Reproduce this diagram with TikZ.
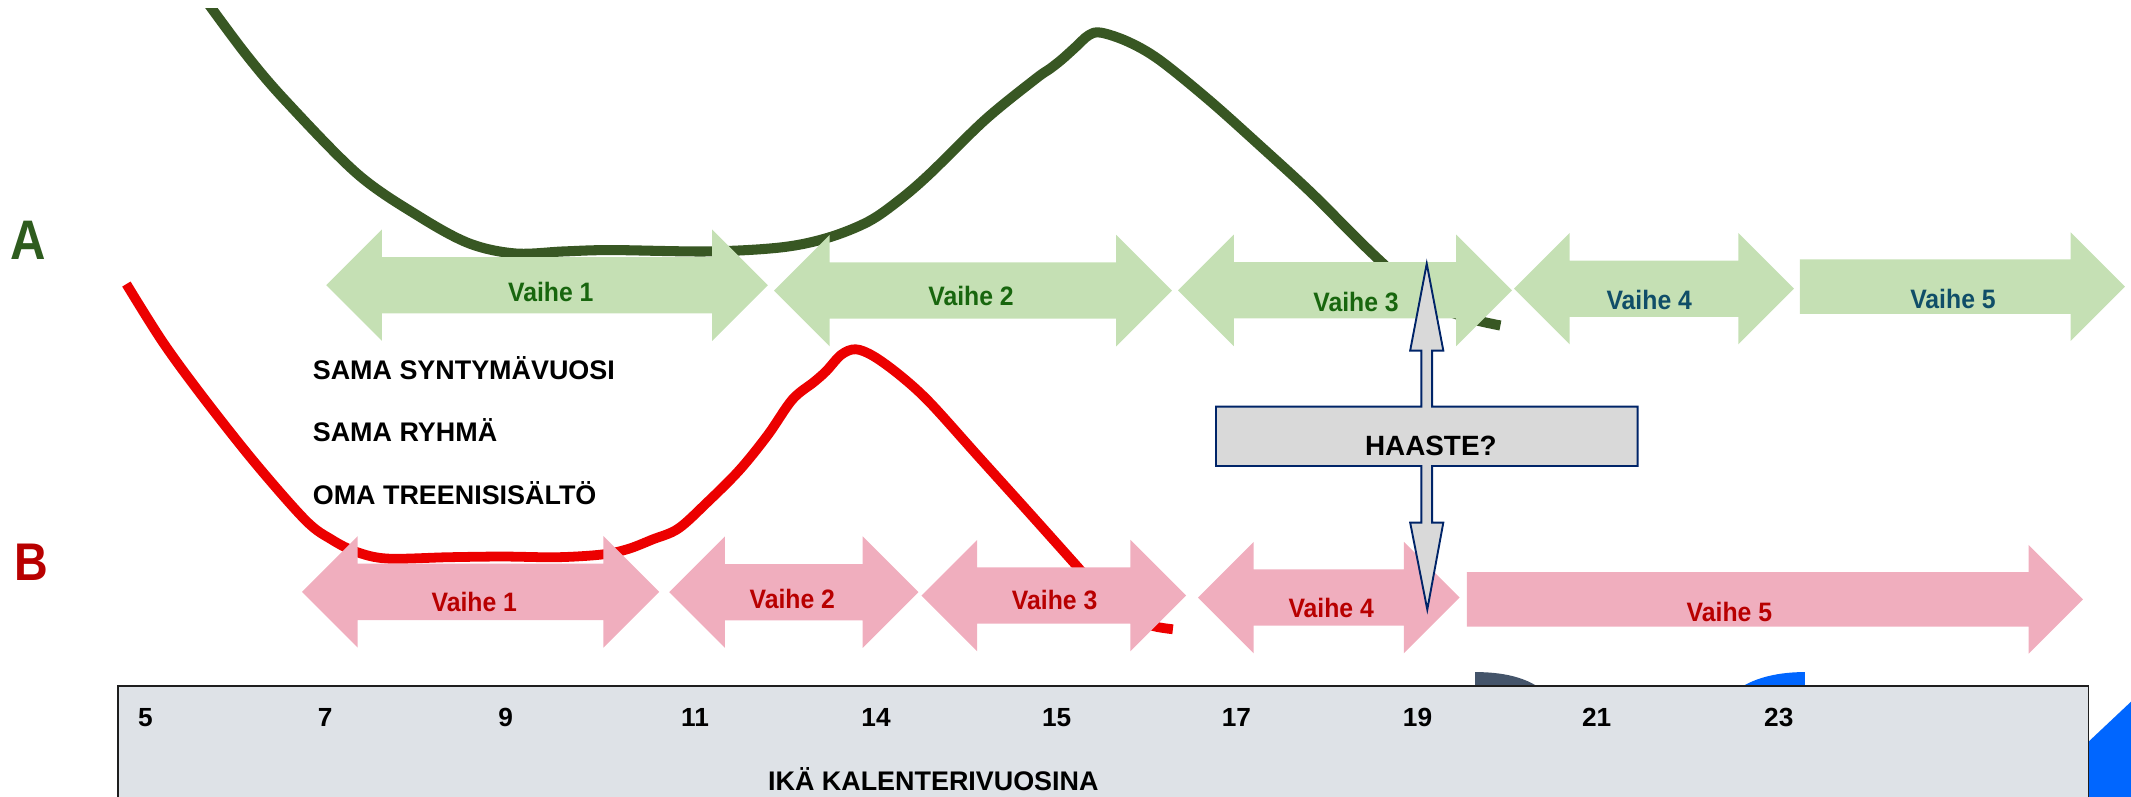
\documentclass[tikz,border=0pt]{standalone}
\usepackage{fontspec}
\setmainfont{Liberation Sans}
\newfontfamily\lblfont{Liberation Sans}[FakeStretch=0.93]
\newfontfamily\bigfont{Liberation Sans}[FakeStretch=0.88]
\definecolor{gcurvecol}{RGB}{56,87,35}
\definecolor{rcurvecol}{RGB}{236,0,0}
\definecolor{garrowcol}{RGB}{197,224,180}
\definecolor{parrowcol}{RGB}{240,174,190}
\definecolor{gtextcol}{RGB}{24,102,14}
\definecolor{ttextcol}{RGB}{16,78,104}
\definecolor{ptextcol}{RGB}{184,0,0}
\definecolor{Acol}{RGB}{46,92,30}
\definecolor{Bcol}{RGB}{184,0,0}
\definecolor{haastefill}{RGB}{217,217,217}
\definecolor{haasteline}{RGB}{0,36,104}
\definecolor{rectfill}{RGB}{222,226,231}
\definecolor{rectline}{RGB}{30,30,30}
\definecolor{slatecol}{RGB}{68,84,106}
\definecolor{bluecol}{RGB}{0,102,255}
\newcommand{\dbarr}[4]{%
  \fill[#1] (#2,#4) -- ({#2+41},{#4-41}) -- ({#2+41},{#4-20.7}) -- ({#3-41},{#4-20.7}) -- ({#3-41},{#4-41}) -- (#3,#4) -- ({#3-41},{#4+41}) -- ({#3-41},{#4+20.7}) -- ({#2+41},{#4+20.7}) -- ({#2+41},{#4+41}) -- cycle;}
\newcommand{\rarr}[4]{%
  \fill[#1] (#2,{#4-20.1}) -- ({#3-40},{#4-20.1}) -- ({#3-40},{#4-40}) -- (#3,#4) -- ({#3-40},{#4+40}) -- ({#3-40},{#4+20.1}) -- (#2,{#4+20.1}) -- cycle;}
\tikzset{
  garrow/.style={fill=garrowcol},
  parrow/.style={fill=parrowcol},
  gcurve/.style={draw=gcurvecol, line width=7.4, line cap=butt, line join=round},
  rcurve/.style={draw=rcurvecol, line width=7.2, line cap=butt, line join=round},
  lbl/.style={font=\lblfont\bfseries\fontsize{19.6}{20}\selectfont, inner sep=0, anchor=base},
  glbl/.style={lbl, text=gtextcol},
  tlbl/.style={lbl, text=ttextcol},
  plbl/.style={lbl, text=ptextcol},
  info/.style={font=\bfseries\fontsize{19.8}{20}\selectfont, inner sep=0, anchor=base west},
  num/.style={font=\bfseries\fontsize{19.3}{20}\selectfont, inner sep=0, anchor=base},
  letter/.style={font=\bigfont\bfseries\fontsize{41}{42}\selectfont, inner sep=0, anchor=base west},
  haaste/.style={fill=haastefill, draw=haasteline, line width=1.4},
}
\begin{document}
\begin{tikzpicture}[x=1pt,y=-1pt]
\useasboundingbox (0,0) rectangle (1568,586.4);
% green curve
\begin{scope}
\clip (0,6) rectangle (1568,586.4);
\draw[gcurve] plot[smooth, tension=0.55] coordinates {(152,1) (181,40) (210,74) (263,128) (308,159) (345,179) (379,186.5) (415,185) (450,184) (522,185) (575,182) (609,175) (639,163) (662,147) (684,128) (725,88) (762,58) (772,51) (781,44) (791,35) (801,26) (810,24) (830,30.7) (853,44) (890,74) (928,108) (965,142) (1003,180) (1030,205) (1055,224) (1080,234) (1104,239.5)};
\end{scope}
% green arrows
\dbarr{garrow}{240}{565}{209.8}
\dbarr{garrow}{569.5}{862.3}{213.8}
\dbarr{garrow}{866.8}{1112.5}{213.6}
\dbarr{garrow}{1114}{1320}{212.4}
\rarr{garrow}{1324.4}{1563.5}{210.9}
% red curve
\draw[rcurve] plot[smooth, tension=0.55] coordinates {(93,209) (120,252) (150,293) (188,341) (225,383) (244,397) (262,406) (285,411) (330,410) (370,409.5) (410,410) (443,408) (462,404) (480,397) (499,389) (520,370) (544,346) (565,320) (583,294) (599,281) (608,273) (619,261) (629.5,257) (642.6,262) (662,276) (684,296) (720,336) (757,377) (791,415) (815,442) (835,456) (850,461) (863,463)};
% pink arrows
\dbarr{parrow}{222.2}{485}{435.5}
\dbarr{parrow}{492.4}{675.8}{435.7}
\dbarr{parrow}{678}{872.8}{438.2}
\dbarr{parrow}{881.5}{1074}{439.7}
\rarr{parrow}{1079.4}{1532.6}{441}
% labels on arrows
\node[glbl] (g1) at (405.3,222) {Vaihe 1};
\node[glbl] (g2) at (714.5,225) {Vaihe 2};
\node[glbl] (g3) at (997.8,229.5) {Vaihe 3};
\node[tlbl] (g4) at (1213.5,228) {Vaihe 4};
\node[tlbl] (g5) at (1437,226.8) {Vaihe 5};
\node[plbl] (p1) at (349,450) {Vaihe 1};
\node[plbl] (p2) at (583,447.6) {Vaihe 2};
\node[plbl] (p3) at (776,448.8) {Vaihe 3};
\node[plbl] (p4) at (979.5,454) {Vaihe 4};
\node[plbl] (p5) at (1272.5,457.4) {Vaihe 5};
% side letters
\node[letter, text=Acol] (A) at (7.5,190.8) {A};
\node[letter, text=Bcol, font=\bigfont\bfseries\fontsize{39}{40}\selectfont] (B) at (10.5,427) {B};
% info texts
\node[info] (t1) at (230,279.6) {SAMA SYNTYMÄVUOSI};
\node[info] (t2) at (230,325) {SAMA RYHMÄ};
\node[info] (t3) at (230,371) {OMA TREENISISÄLTÖ};
% challenge callout
\filldraw[haaste] (1049.8,194) -- (1062,258) -- (1053.8,258) -- (1053.8,299.2) -- (1205,299.2) -- (1205,342.9) -- (1053.8,342.9) -- (1053.8,384.5) -- (1062,384.5) -- (1050.2,448.5) -- (1037.6,384.5) -- (1045.8,384.5) -- (1045.8,342.9) -- (894.7,342.9) -- (894.7,299.2) -- (1045.8,299.2) -- (1045.8,258) -- (1037.6,258) -- cycle;
\node[font=\bfseries\fontsize{20.5}{21}\selectfont, inner sep=0, anchor=base] (haaste) at (1052.8,334.8) {HAASTE?};
% shapes peeking behind the age bar
\fill[slatecol] (1085.3,507) -- (1085.3,494.5) .. controls (1105,494.5) and (1122,498) .. (1134,507) -- cycle;
\fill[bluecol] (1279,507) .. controls (1292,498) and (1310,494.5) .. (1328,494.5) -- (1328,507) -- cycle;
\fill[bluecol] (1530,552) -- (1537.3,545.2) -- (1568,516.3) -- (1568,590) -- (1530,590) -- cycle;
% age bar
\filldraw[fill=rectfill, draw=rectline, line width=1.1] (87,504.7) rectangle (1536.7,600);
\node[num] (n5) at (107,534.7) {5};
\node[num] (n7) at (239.2,534.7) {7};
\node[num] (n9) at (372,534.7) {9};
\node[num] (n11) at (511.4,534.7) {11};
\node[num] (n14) at (644.6,534.7) {14};
\node[num] (n15) at (777.5,534.7) {15};
\node[num] (n17) at (909.8,534.7) {17};
\node[num] (n19) at (1043,534.7) {19};
\node[num] (n21) at (1174.8,534.7) {21};
\node[num] (n23) at (1308.8,534.7) {23};
\node[info] (ika) at (565,581.3) {IKÄ KALENTERIVUOSINA};
\end{tikzpicture}
\end{document}
